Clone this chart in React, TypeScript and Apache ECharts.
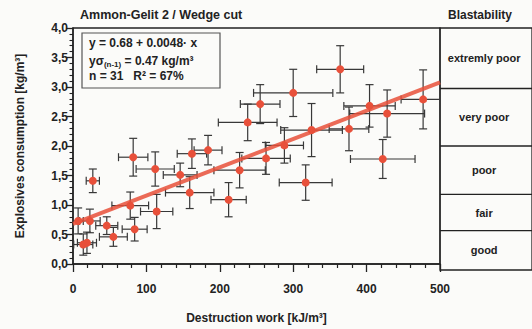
import React, { useEffect, useRef } from "react";
import * as echarts from "echarts";

// Destruction work [kJ/m³]
const xVals = [7, 23, 14, 19, 46, 55, 84, 78, 114, 27, 82, 112, 146, 159, 162, 184, 212, 227, 263, 238, 255, 300, 317, 325, 364, 376, 404, 428, 422, 477, 288];
// Explosives consumption [kg/m³]
const yVals = [0.73, 0.73, 0.33, 0.36, 0.65, 0.46, 0.59, 0.99, 0.89, 1.41, 1.81, 1.61, 1.51, 1.21, 1.87, 1.93, 1.09, 1.59, 1.79, 2.40, 2.71, 2.90, 1.38, 2.27, 3.30, 2.29, 2.68, 2.55, 1.78, 2.79, 2.01];
// half widths of the error bars
const xErr = [7, 14, 13, 13, 15, 19, 17, 25, 22, 9, 20, 26, 23, 33, 20, 19, 24, 35, 33, 40, 27, 54, 36, 42, 32, 27, 35, 51, 44, 30, 26];
const yErr = [0.22, 0.2, 0.18, 0.18, 0.15, 0.16, 0.2, 0.23, 0.29, 0.2, 0.32, 0.29, 0.2, 0.27, 0.25, 0.25, 0.29, 0.3, 0.27, 0.31, 0.33, 0.4, 0.3, 0.45, 0.4, 0.37, 0.36, 0.4, 0.33, 0.5, 0.3];

const regIntercept = 0.68;
const regSlope = 0.0048;
const xRange = [0, 500];

const bandLabels = ["good", "fair", "poor", "very poor", "extremly poor"];
const bandBounds = [0, 0.65, 1.25, 2.05, 3.0, 4.0];

const FONT = "Liberation Sans, Arial, sans-serif";
const INK = "#222";
const RED = "#e8503a";

export default function App() {
  const ref = useRef<HTMLDivElement>(null);
  useEffect(() => {
    if (!ref.current) return;
    const chart = echarts.init(ref.current, undefined, { renderer: "svg" });
    const errData = xVals.map((x, i) => [x, yVals[i], xErr[i], yErr[i]]);
    const ptData = xVals.map((x, i) => [x, yVals[i]]);
    const regData = xRange.map((x) => [x, regIntercept + regSlope * x]);
    const bandData = bandLabels.map((l, i) => [bandBounds[i], bandBounds[i + 1], l]);

    chart.setOption({
      animation: false,
      backgroundColor: "#fbfbf9",
      textStyle: { fontFamily: FONT },
      grid: [
        { left: 73, right: 92, top: 28, bottom: 59, show: true, borderColor: INK, borderWidth: 1.3, backgroundColor: "transparent" },
        { left: 440, right: -4, top: 28, bottom: 59, show: true, borderColor: INK, borderWidth: 1.3, backgroundColor: "transparent" },
      ],
      xAxis: [
        {
          gridIndex: 0,
          type: "value",
          min: 0,
          max: 500,
          interval: 100,
          splitLine: { show: false },
          axisLine: { show: true, onZero: false, lineStyle: { color: INK, width: 1.5 } },
          axisTick: { show: true, inside: false, length: 8, lineStyle: { color: INK, width: 1.3 } },
          minorTick: { show: true, splitNumber: 5, length: 4, lineStyle: { color: INK, width: 1.2 } },
          axisLabel: { color: INK, fontSize: 12, fontWeight: "bold", margin: 19, fontFamily: FONT },
          name: "Destruction work [kJ/m³]",
          nameLocation: "middle",
          nameGap: 48,
          nameTextStyle: { color: INK, fontSize: 12, fontWeight: "bold", fontFamily: FONT },
        },
        {
          gridIndex: 1,
          type: "value",
          min: 0,
          max: 1,
          show: false,
        },
      ],
      yAxis: [
        {
          gridIndex: 0,
          type: "value",
          min: 0,
          max: 4,
          interval: 0.5,
          splitLine: { show: false },
          axisLine: { show: true, onZero: false, lineStyle: { color: INK, width: 1.5 } },
          axisTick: { show: true, inside: false, length: 7, lineStyle: { color: INK, width: 1.3 } },
          minorTick: { show: true, splitNumber: 5, length: 3.5, lineStyle: { color: INK, width: 1.1 } },
          axisLabel: {
            color: INK,
            fontSize: 12,
            fontWeight: "bold",
            margin: 5,
            fontFamily: FONT,
            formatter: (v: number) => v.toFixed(1).replace(".", ","),
          },
          name: "Explosives consumption [kg/m³]",
          nameLocation: "middle",
          nameGap: 47,
          nameTextStyle: { color: INK, fontSize: 12, fontWeight: "bold", fontFamily: FONT },
        },
        {
          gridIndex: 1,
          type: "value",
          min: 0,
          max: 4,
          show: false,
        },
      ],
      series: [
        {
          type: "custom",
          xAxisIndex: 0,
          yAxisIndex: 0,
          clip: true,
          z: 2,
          data: errData,
          renderItem: (params: any, api: any) => {
            const x = api.value(0);
            const y = api.value(1);
            const dx = api.value(2);
            const dy = api.value(3);
            const l = api.coord([x - dx, y]);
            const r = api.coord([x + dx, y]);
            const t = api.coord([x, y + dy]);
            const b = api.coord([x, y - dy]);
            const cap = 4;
            const style = { stroke: "#383838", lineWidth: 1.2, fill: null };
            return {
              type: "group",
              children: [
                { type: "line", shape: { x1: l[0], y1: l[1], x2: r[0], y2: r[1] }, style },
                { type: "line", shape: { x1: l[0], y1: l[1] - cap, x2: l[0], y2: l[1] + cap }, style },
                { type: "line", shape: { x1: r[0], y1: r[1] - cap, x2: r[0], y2: r[1] + cap }, style },
                { type: "line", shape: { x1: t[0], y1: t[1], x2: b[0], y2: b[1] }, style },
                { type: "line", shape: { x1: t[0] - cap, y1: t[1], x2: t[0] + cap, y2: t[1] }, style },
                { type: "line", shape: { x1: b[0] - cap, y1: b[1], x2: b[0] + cap, y2: b[1] }, style },
              ],
            };
          },
        },
        {
          type: "line",
          xAxisIndex: 0,
          yAxisIndex: 0,
          z: 3,
          data: regData,
          symbol: "none",
          lineStyle: { color: RED, width: 4, opacity: 0.85 },
        },
        {
          type: "scatter",
          xAxisIndex: 0,
          yAxisIndex: 0,
          z: 4,
          data: ptData,
          symbol: "circle",
          symbolSize: 8,
          itemStyle: { color: RED, opacity: 1 },
        },
        {
          type: "custom",
          xAxisIndex: 1,
          yAxisIndex: 1,
          z: 2,
          data: bandData,
          renderItem: (params: any, api: any) => {
            const lo = api.value(0);
            const hi = api.value(1);
            const label = bandLabels[params.dataIndex];
            const a = api.coord([0, lo]);
            const c = api.coord([0.48, (lo + hi) / 2]);
            const e = api.coord([1, lo]);
            const children: any[] = [
              {
                type: "text",
                style: {
                  x: c[0],
                  y: c[1],
                  text: label,
                  fill: INK,
                  font: `bold 11px ${FONT}`,
                  align: "center",
                  verticalAlign: "middle",
                },
              },
            ];
            if (lo > 0) {
              children.push({
                type: "line",
                shape: { x1: a[0], y1: a[1], x2: e[0], y2: e[1] },
                style: { stroke: INK, lineWidth: 1.3 },
              });
            }
            return { type: "group", children };
          },
        },
      ],
      graphic: [
        {
          type: "text",
          left: 80,
          top: 8,
          style: { text: "Ammon-Gelit 2 / Wedge cut", fill: INK, font: `bold 12.5px ${FONT}` },
        },
        {
          type: "text",
          left: 448,
          top: 9,
          style: { text: "Blastability", fill: INK, font: `bold 12px ${FONT}` },
        },
        {
          type: "rect",
          shape: { x: 82, y: 33, width: 138, height: 55 },
          style: { fill: "#fbfbf9", stroke: "#555", lineWidth: 1.2 },
          z: 10,
        },
        {
          type: "text",
          x: 89,
          y: 37,
          z: 11,
          style: { text: "y = 0.68 + 0.0048· x", fill: INK, font: `bold 12px ${FONT}` },
        },
        {
          type: "text",
          x: 89,
          y: 54,
          z: 11,
          style: {
            text: "{a|yσ}{s|(n-1)}{a| = 0.47 kg/m³}",
            fill: INK,
            rich: {
              a: { fontSize: 12, fontWeight: "bold", fontFamily: FONT, fill: INK, color: INK },
              s: { fontSize: 8, fontWeight: "bold", fontFamily: FONT, fill: INK, color: INK, padding: [6, 0, 0, 0] },
            },
          },
        },
        {
          type: "text",
          x: 89,
          y: 70,
          z: 11,
          style: { text: "n = 31   R² = 67%", fill: INK, font: `bold 12px ${FONT}` },
        },
      ],
    });
    return () => chart.dispose();
  }, []);
  return (
    <div
      ref={ref}
      style={{ position: "absolute", left: 0, top: 0, width: 532, height: 329 }}
    />
  );
}
